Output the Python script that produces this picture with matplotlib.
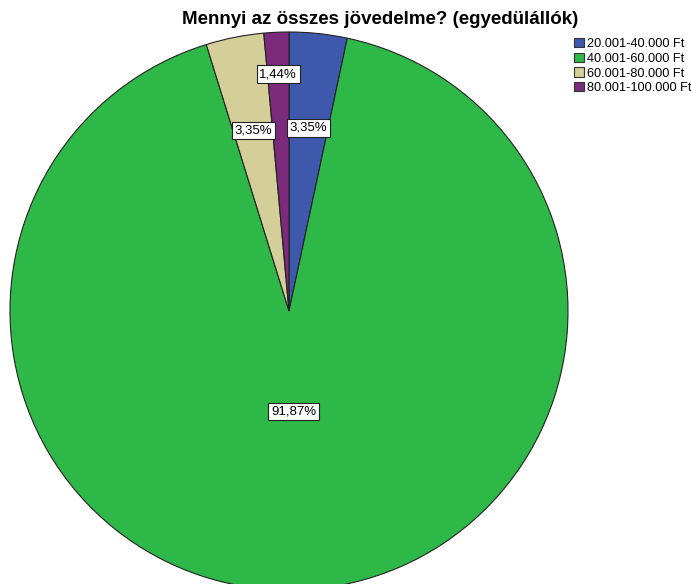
import matplotlib.pyplot as plt
import matplotlib.patches as mpatches
import numpy as np

categories = ['20.001-40.000 Ft', '40.001-60.000 Ft', '60.001-80.000 Ft', '80.001-100.000 Ft']
values = [3.35, 91.87, 3.35, 1.44]
labels = ['3,35%', '91,87%', '3,35%', '1,44%']
colors = ['#3e58ac', '#2eb848', '#d4cf98', '#7b2a7c']
label_dist = [0.66, 0.36, 0.66, 0.85]

fig = plt.figure(figsize=(6.91, 5.84), dpi=100)
ax = fig.add_axes([0, 0, 1, 1])

wedges, _ = ax.pie(values, colors=colors, startangle=90, counterclock=False,
                   wedgeprops=dict(edgecolor='#222222', linewidth=0.8))

for w, lab, d in zip(wedges, labels, label_dist):
    mid = np.deg2rad((w.theta1 + w.theta2) / 2)
    ax.text(d * np.cos(mid), d * np.sin(mid), lab, ha='center', va='center',
            fontsize=9.5, family='Liberation Sans',
            bbox=dict(boxstyle='square,pad=0.2', facecolor='white', edgecolor='#222222', linewidth=0.8))

# map radius 1 to 279 px, centre at (289, 311) from top-left
r = 279
ax.set_aspect('auto')
ax.set_xlim(-289 / r, (691 - 289) / r)
ax.set_ylim(-(584 - 311) / r, 311 / r)
ax.axis('off')

fig.text(380 / 691, 1 - 19 / 584, 'Mennyi az összes jövedelme? (egyedülállók)',
         ha='center', va='center', fontsize=13.5, fontweight='bold', family='Liberation Sans')

handles = [mpatches.Patch(facecolor=c, edgecolor='#333333', linewidth=0.8) for c in colors]
fig.legend(handles, categories, loc='upper left', bbox_to_anchor=(574 / 691, 1 - 38 / 584),
           frameon=False, prop={'family': 'Liberation Sans', 'size': 9.2},
           handlelength=0.75, handleheight=0.75, handletextpad=0.3, labelspacing=0.2,
           borderpad=0, borderaxespad=0)

fig.savefig('out.png', dpi=100)
